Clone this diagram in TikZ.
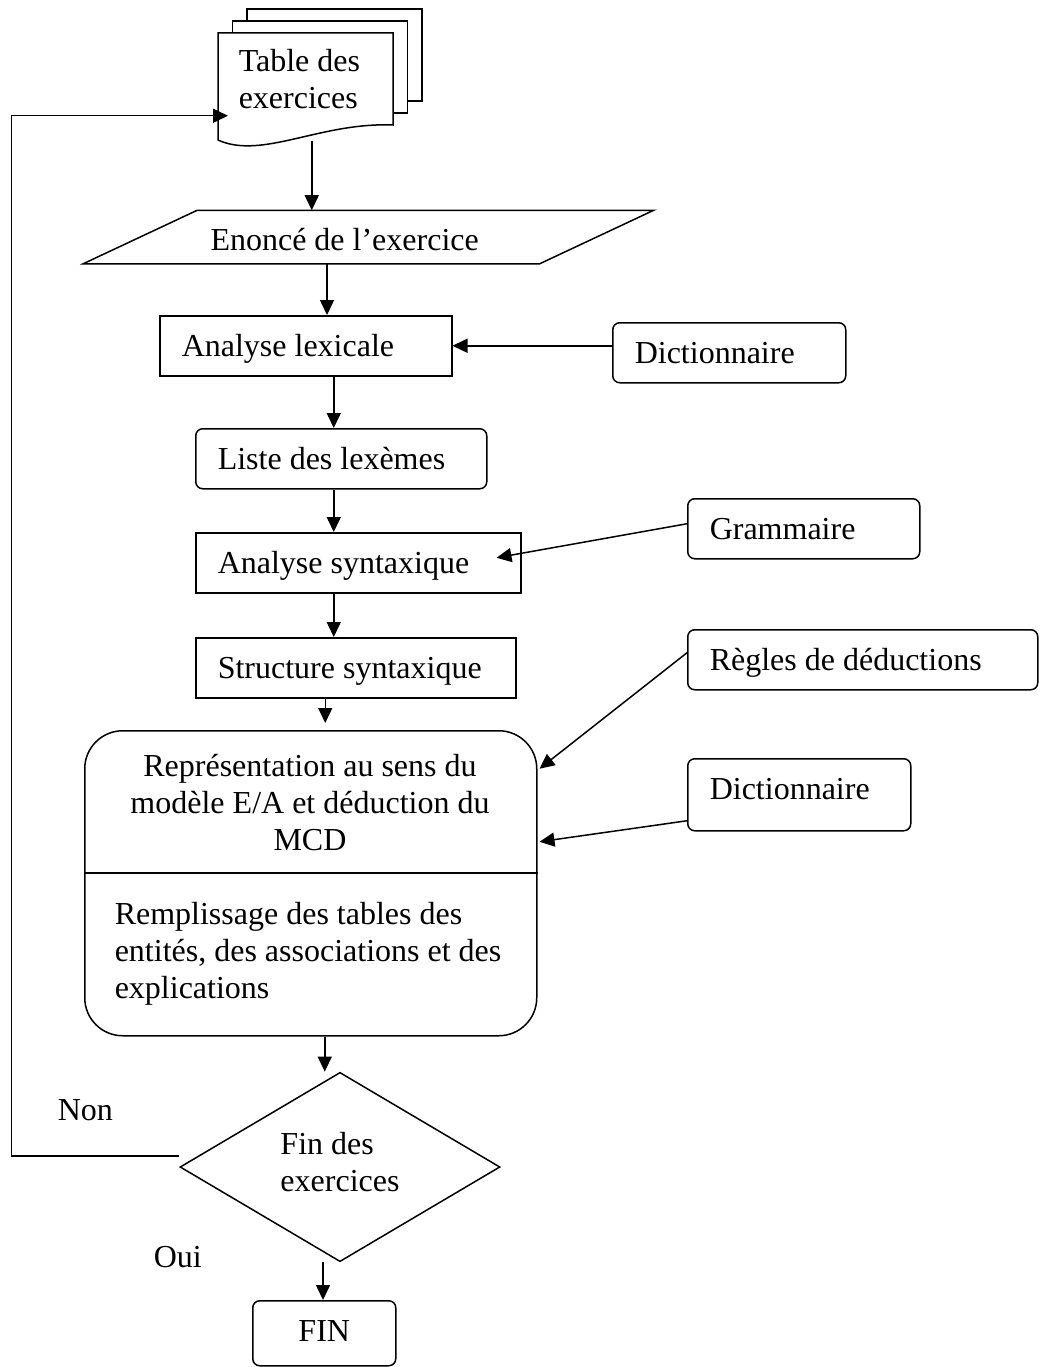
\documentclass[tikz,border=0pt]{standalone}
\usepackage{fontspec}
\setmainfont{Liberation Serif}
\usetikzlibrary{arrows.meta,shapes.geometric}

\begin{document}
\begin{tikzpicture}[
  x=1pt, y=-1pt, line width=1.5pt,
  font=\fontsize{32}{37}\selectfont,
  proc/.style={draw, anchor=north west, align=flush left, inner xsep=22pt,
               inner ysep=0pt, text height=41pt, text depth=19pt},
  rbox/.style={proc, rounded corners=7pt},
  txt/.style={inner sep=0pt, execute at begin node=\strut,
              execute at end node=\strut},
  arr/.style={-{Triangle[length=15pt,width=14pt]}},
]
  \useasboundingbox (0,0) rectangle (1041,1367);

  % pile de feuilles
  \foreach \k in {2,1}
    \draw[fill=white] (218+14.5*\k,33-12*\k) rectangle (393+14.5*\k,125-12*\k);
  \draw[fill=white] (218,140) -- (218,33) -- (393,33) -- (393,125)
    .. controls (320,122) and (262,160) .. (218,140) -- cycle;
  \node[txt, align=flush left, text width=135pt, minimum width=175pt,
        minimum height=98pt, anchor=north west] (tab) at (218,33) {Table des\\exercices};

  % enonce
  \node[minimum width=455pt, minimum height=52pt, inner ysep=0pt, text width=316pt,
        align=flush left, text height=39pt, text depth=13pt] (enonce) at (368.5,237)
        {Enoncé de l’exercice};
  \draw ([xshift=57pt]enonce.north west) -- ([xshift=57pt]enonce.north east)
     -- ([xshift=-57pt]enonce.south east) -- ([xshift=-57pt]enonce.south west) -- cycle;

  % analyses
  \node[proc, text width=248pt] (lex) at (159,315) {Analyse lexicale};
  \node[rbox, text width=189pt] (dic1) at (612,322) {Dictionnaire};
  \node[rbox, text width=247pt] (lst) at (195,428) {Liste des lexèmes};
  \node[proc, text width=281pt] (syn) at (195,532) {Analyse syntaxique};
  \node[rbox, text width=188pt] (gram) at (687,498) {Grammaire};
  \node[proc, text width=276pt] (stx) at (195,637) {Structure syntaxique};
  \node[rbox, text width=306pt] (regl) at (687,629) {Règles de déductions};
  \node[rbox, text width=179pt, text depth=31pt] (dic2) at (687,758) {Dictionnaire};

  % representation E/A
  \node[draw, rounded corners=38pt, minimum width=452pt, minimum height=305pt,
        anchor=north west] (rep) at (84,730) {};
  \draw ([yshift=-143pt]rep.north west) -- ([yshift=-143pt]rep.north east);
  \node[txt, align=center, anchor=north] (repa) at (310,753.1)
    {Représentation au sens du\\modèle E/A et déduction du\\MCD};
  \node[txt, align=left, anchor=north west] (repb) at (114,901.1)
    {Remplissage des tables des\\entités, des associations et des\\explications};

  % test et fin
  \node[draw, diamond, minimum width=320pt, minimum height=168pt, inner sep=0pt,
        align=left, execute at begin node=\strut, execute at end node=\strut]
        (test) at (340,1167) {Fin des\\exercices};
  \node[rbox, align=flush center, text width=99pt, text depth=24pt] (stop) at (252,1300) {FIN};
  \node[anchor=base west, inner sep=0pt] (non) at (57,1120) {Non};
  \node[anchor=base west, inner sep=0pt] (oui) at (153,1267) {Oui};

  % liaisons
  \draw[arr] ([xshift=5.5pt,yshift=-9pt]tab.south) -- ([xshift=5.5pt]tab.south |- enonce.north);
  \draw[arr] ([xshift=-41.5pt]enonce.south) -- ([xshift=-41.5pt]enonce.south |- lex.north);
  \draw[arr] (dic1.west |- lex.east) -- (lex.east);
  \draw[arr] ([xshift=28pt]lex.south) -- ([xshift=28pt]lex.south |- lst.north);
  \draw[arr] ([xshift=-7.5pt]lst.south) -- ([xshift=-7.5pt]lst.south |- syn.north);
  \draw[arr] ([yshift=5pt]gram.west) -- ([xshift=-25pt,yshift=5pt]syn.east);
  \draw[arr] ([xshift=-24.5pt]syn.south) -- ([xshift=-24.5pt]syn.south |- stx.north);
  \draw[arr, shorten >=7pt] ([xshift=-30.5pt]stx.south) -- ([xshift=-30.5pt]stx.south |- rep.north);
  \draw[arr] ([yshift=7pt]regl.west) -- ([xshift=2pt,yshift=114.5pt]rep.east);
  \draw[arr] ([yshift=-26pt]dic2.west) -- ([xshift=2pt,yshift=41.5pt]rep.east);
  \draw[arr] ([xshift=14pt]rep.south) -- ([xshift=14pt]rep.south |- test.north);
  \draw[arr] ([xshift=-17pt]test.south) -- ([xshift=-17pt]test.south |- stop.north);
  \draw[arr] ([yshift=11pt]test.west) -- ++(-168,0) |- ([xshift=10pt,yshift=-33pt]tab.west);
\end{tikzpicture}
\end{document}
